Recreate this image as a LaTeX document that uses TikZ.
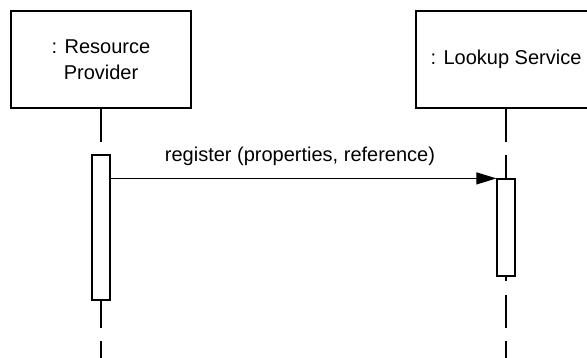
\documentclass[tikz,border=0pt]{standalone}
\usepackage{fontspec}
\setmainfont{Liberation Sans}
\usetikzlibrary{arrows.meta}
\begin{document}
\begin{tikzpicture}[x=1pt,y=-1pt,
  font=\fontsize{20}{25.5}\selectfont,
  objbox/.style={draw, line width=1.2pt, fill=white, minimum width=180pt,
    minimum height=97pt, align=center, inner sep=0pt},
  actbox/.style={draw, line width=1.2pt, fill=white, minimum width=18pt, inner sep=0pt},
  lifeline/.style={line width=1.1pt, dash pattern=on 33pt off 13.5pt},
  msg/.style={line width=1.1pt, -{Triangle[length=20pt,width=12pt]}}]
  \useasboundingbox (0,0) rectangle (587,358);
  \begin{scope}
    \clip (0,0) rectangle (587,358);
    % object heads
    \node[objbox] (prov) at (101,59.5) {: Resource\\Provider};
    \node[objbox] (look) at (506,59.5) {: Lookup Service};
    % lifelines
    \coordinate (provEnd) at (101,370);
    \coordinate (lookEnd) at (506,370);
    \draw[lifeline] (prov.south) -- (provEnd);
    \draw[lifeline] (look.south) -- (lookEnd);
    % activation bars
    \node[actbox, minimum height=145pt] (actA) at (101,227.5) {};
    \node[actbox, minimum height=97pt] (actB) at (506,227.5) {};
    % message
    \draw[msg] (actA.east |- actB.north west) -- (actB.north west)
      node[midway, anchor=base, yshift=17pt, xshift=-3.5pt] (lbl) {register (properties, reference)};
  \end{scope}
\end{tikzpicture}
\end{document}
